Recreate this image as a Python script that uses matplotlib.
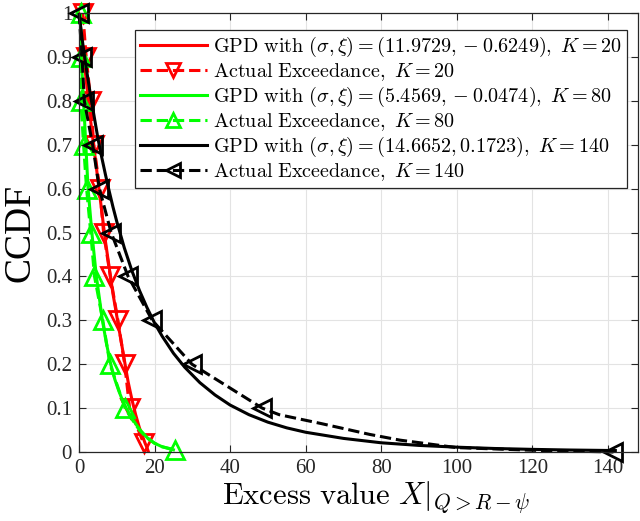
import numpy as np
import matplotlib
matplotlib.use('Agg')
import matplotlib.pyplot as plt

plt.rcParams['font.family'] = ['Liberation Serif', 'DejaVu Serif']
plt.rcParams['mathtext.fontset'] = 'cm'

# K = 20 : fitted GPD curve and actual exceedance
red_fit_x = [0, 1, 2, 3, 4, 5, 6, 7, 8, 9, 10, 11, 12, 13, 14, 15, 16, 16.5, 17, 17.5, 18, 18.4]
red_fit_y = [1, 0.92, 0.84, 0.76, 0.69, 0.62, 0.55, 0.48, 0.42, 0.36, 0.31, 0.26, 0.21, 0.16, 0.12,
             0.085, 0.055, 0.043, 0.032, 0.02, 0.01, 0.0]
red_act_x = [1.0, 1.9, 3.1, 3.9, 5.5, 6.5, 8.3, 10.3, 12.1, 13.4, 17.1]
red_act_y = [1.0, 0.9, 0.8, 0.7, 0.6, 0.5, 0.4, 0.3, 0.2, 0.1, 0.02]

# K = 80
green_fit_x = [0, 0.3, 0.6, 1.2, 1.8, 2.4, 3.4, 4.6, 6.2, 7.2, 8.4, 9.5, 10.5, 11.5, 12.5, 14, 16,
               18, 20, 22, 25]
green_fit_y = [1, 0.95, 0.9, 0.8, 0.7, 0.6, 0.5, 0.4, 0.3, 0.25, 0.2, 0.165, 0.14, 0.118, 0.1,
               0.077, 0.052, 0.033, 0.02, 0.012, 0.005]
green_act_x = [0.4, 0.6, 0.5, 1.2, 2.0, 3.1, 4.1, 6.3, 8.2, 12.2, 14, 16, 18, 20, 22, 25.4]
green_act_y = [1.0, 0.9, 0.8, 0.7, 0.6, 0.5, 0.4, 0.3, 0.2, 0.1, 0.075, 0.05, 0.032, 0.02, 0.012,
               0.005]
green_marks = [0, 1, 2, 3, 4, 5, 6, 7, 8, 9, 15]

# K = 140
black_fit_x = [0, 0.5, 1, 2, 3, 4, 5, 6, 7, 8, 9, 10, 12, 14, 16, 18, 20, 22, 25, 28, 32, 36, 40,
               45, 50, 55, 60, 70, 80, 90, 100, 110, 120, 130, 142]
black_fit_y = [1, 0.965, 0.93, 0.87, 0.815, 0.765, 0.715, 0.672, 0.632, 0.594, 0.558, 0.525,
               0.465, 0.413, 0.368, 0.329, 0.294, 0.264, 0.225, 0.193, 0.158, 0.13, 0.107, 0.085,
               0.068, 0.055, 0.045, 0.031, 0.021, 0.015, 0.011, 0.008, 0.006, 0.0045, 0.0033]
black_act_x = [0.0, 0.8, 1.4, 3.6, 5.4, 8.5, 13.0, 19.4, 29.9, 48.5, 53, 64, 77, 85, 100, 120, 141.5]
black_act_y = [1.0, 0.9, 0.8, 0.7, 0.6, 0.5, 0.4, 0.3, 0.2, 0.1, 0.085, 0.065, 0.04, 0.027, 0.01,
               0.004, 0.0]
black_marks = [0, 1, 2, 3, 4, 5, 6, 7, 8, 9, 16]

labels = [r'$\mathrm{GPD\ with\ }(\sigma,\xi)=(11.9729,-0.6249),\ K=20$',
          r'$\mathrm{Actual\ Exceedance,\ }K=20$',
          r'$\mathrm{GPD\ with\ }(\sigma,\xi)=(5.4569,-0.0474),\ K=80$',
          r'$\mathrm{Actual\ Exceedance,\ }K=80$',
          r'$\mathrm{GPD\ with\ }(\sigma,\xi)=(14.6652,0.1723),\ K=140$',
          r'$\mathrm{Actual\ Exceedance,\ }K=140$']

fig = plt.figure(figsize=(6.4, 5.21), dpi=100)
ax = fig.add_axes([79/640, 1-452/521, (638-79)/640, 439/521])

lw = 2.2
ms = 13
ax.plot(red_fit_x, red_fit_y, '-', color=(1, 0, 0), lw=lw, label=labels[0])
ax.plot(red_act_x, red_act_y, '--', color=(1, 0, 0), lw=lw, marker='v', ms=ms, mfc='none',
        mew=2, label=labels[1], clip_on=False)
ax.plot(green_fit_x, green_fit_y, '-', color=(0, 1, 0), lw=lw, label=labels[2])
ax.plot(green_act_x, green_act_y, '--', color=(0, 1, 0), lw=lw, marker='^', ms=ms, mfc='none',
        mew=2, markevery=green_marks, label=labels[3], clip_on=False)
ax.plot(black_fit_x, black_fit_y, '-', color='k', lw=lw, label=labels[4])
ax.plot(black_act_x, black_act_y, '--', color='k', lw=lw, marker='<', ms=ms, mfc='none',
        mew=2, markevery=black_marks, label=labels[5], clip_on=False)

ax.set_xlim(0, 148)
ax.set_ylim(0, 1)
ax.set_xticks(np.arange(0, 141, 20))
ax.set_yticks(np.arange(0, 1.01, 0.1))
ax.set_yticklabels(['0', '0.1', '0.2', '0.3', '0.4', '0.5', '0.6', '0.7', '0.8', '0.9', '1'])
ax.tick_params(direction='in', length=5, width=0.8, labelsize=15, top=True, right=True,
               colors='#262626', pad=5)
ax.grid(True, color='#e3e3e3', lw=0.8)
ax.set_axisbelow(True)
for s in ax.spines.values():
    s.set_color('#262626')
    s.set_linewidth(0.9)

ax.set_xlabel(r'$\mathrm{Excess\ value\ }X|_{Q>R-\psi}$', fontsize=22)
ax.xaxis.set_label_coords(0.531, -0.062, transform=ax.transAxes)
ax.set_ylabel('CCDF', fontsize=27, labelpad=6)

leg = ax.legend(loc='upper right', bbox_to_anchor=(0.98, 0.961), borderaxespad=0,
                fontsize=14.5, handlelength=3.3, handletextpad=0.3, labelspacing=0.1,
                borderpad=0.25, fancybox=False, framealpha=1, numpoints=1, markerscale=0.75)
leg.get_frame().set_edgecolor('#262626')
leg.get_frame().set_linewidth(0.9)

fig.savefig('out.png', dpi=100)
